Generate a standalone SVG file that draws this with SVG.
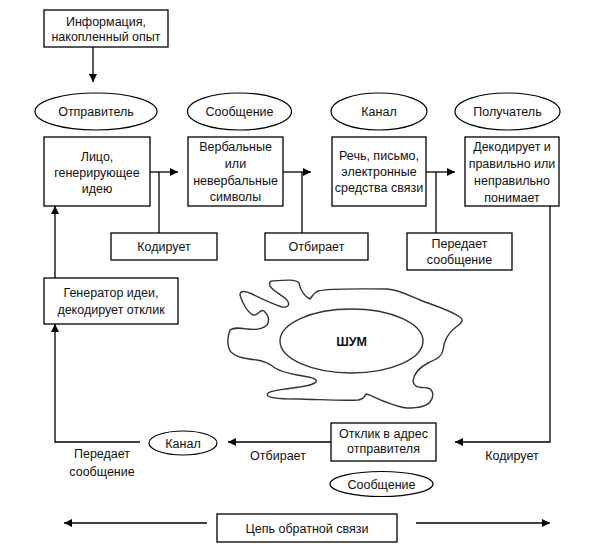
<svg xmlns="http://www.w3.org/2000/svg" width="598" height="558" viewBox="0 0 598 558">
<defs>
<marker id="ah" viewBox="0 0 10 10" refX="10" refY="5" markerWidth="8" markerHeight="8" markerUnits="userSpaceOnUse" orient="auto">
<path d="M0,0 L10,5 L0,10 z" fill="#000"/>
</marker>
<style>
rect.b{fill:#fff;stroke:#000;stroke-width:1.3}
ellipse.e{fill:#fff;stroke:#000;stroke-width:1.2}
text{font-family:"Liberation Sans",Arial,sans-serif;font-size:12.5px;fill:#111;text-anchor:middle}
.c line,.c polyline{stroke:#000;stroke-width:1.3;fill:none}
</style>
</defs>
<rect width="598" height="558" fill="#fff"/>

<g id="info"><rect class="b" x="44" y="10" width="124" height="37"/><text x="106" y="26">Информация,</text><text x="106" y="41">накопленный опыт</text></g>

<g id="ov-sender"><ellipse class="e" cx="96" cy="111.5" rx="61" ry="18.5"/><text x="96" y="115.5">Отправитель</text></g>
<g id="ov-msg"><ellipse class="e" cx="239.5" cy="111.5" rx="52" ry="18.5"/><text x="239.5" y="115.5">Сообщение</text></g>
<g id="ov-chan"><ellipse class="e" cx="379" cy="111.5" rx="48" ry="18.5"/><text x="379" y="115.5">Канал</text></g>
<g id="ov-recv"><ellipse class="e" cx="507.5" cy="111.5" rx="52.5" ry="18.5"/><text x="507.5" y="115.5">Получатель</text></g>

<g id="person"><rect class="b" x="44" y="137" width="106" height="69"/><text x="97" y="161">Лицо,</text><text x="97" y="177">генерирующее</text><text x="97" y="193">идею</text></g>
<g id="symbols"><rect class="b" x="188" y="137" width="95" height="69"/><text x="235.5" y="151">Вербальные</text><text x="235.5" y="168">или</text><text x="235.5" y="185">невербальные</text><text x="235.5" y="201">символы</text></g>
<g id="speech"><rect class="b" x="332" y="137" width="94" height="69"/><text x="379" y="160">Речь, письмо,</text><text x="379" y="176">электронные</text><text x="379" y="192">средства связи</text></g>
<g id="decode"><rect class="b" x="465" y="137" width="94" height="69"/><text x="512" y="151">Декодирует и</text><text x="512" y="168">правильно или</text><text x="512" y="185">неправильно</text><text x="512" y="202">понимает</text></g>

<g id="encode"><rect class="b" x="111" y="233" width="106" height="27"/><text x="164" y="251">Кодирует</text></g>
<g id="select"><rect class="b" x="265" y="233" width="103" height="27"/><text x="316.5" y="251">Отбирает</text></g>
<g id="transmit"><rect class="b" x="407" y="233" width="105" height="37"/><text x="459.5" y="248">Передает</text><text x="459.5" y="264">сообщение</text></g>

<g id="generator"><rect class="b" x="44" y="278" width="134" height="46"/><text x="111" y="297">Генератор идеи,</text><text x="111" y="314">декодирует отклик</text></g>

<g id="noise">
<path d="M272,281 C285,280 296,279 299,283 C300,290 305,297 310,299 C312,297 313,293 318,291 C330,288 360,289 387,289 C400,290 410,296 420,300 C432,305 448,309 460,317 C464,320 462,323 456,327 C448,333 444,340 443,350 C442,357 436,359 428,363 C420,367 414,373 413,381 C414,388 420,387 428,388 C434,390 434,397 430,402 C426,407 418,408 407,408 C398,407 392,404 383,401 C375,398 369,394 366,394 C364,396 365,399 358,400 C345,401 330,400 300,399 C285,399 273,399 268,396 C265,392 272,391 285,389 C300,387 312,386 316,382 C318,378 308,377 297,375 C287,373 280,371 275,368 C270,364 265,361 257,360 C248,359 237,358 231,352 C227,347 227,337 230,330 C234,327 240,328 247,329 C255,330 262,330 267,325 C270,320 268,315 264,311 C260,308 259,316 253,315 C247,312 242,302 240,295 C240,290 246,291 252,294 C260,298 270,303 282,307 C290,308 290,303 286,299 C280,294 272,290 270,286 C269,283 270,281 272,281 Z" fill="#fff" stroke="#333" stroke-width="1.4"/>
<ellipse cx="351.5" cy="341" rx="71.5" ry="32" fill="#fff" stroke="#333" stroke-width="1.4"/>
<text x="351.5" y="346" style="font-weight:bold">ШУМ</text>
</g>

<g id="response"><rect class="b" x="331" y="423" width="105" height="38"/><text x="383.5" y="438">Отклик в адрес</text><text x="383.5" y="453">отправителя</text></g>
<g id="ov-msg2"><ellipse class="e" cx="381.5" cy="484" rx="51.5" ry="12.5"/><text x="381.5" y="488.5">Сообщение</text></g>
<g id="ov-chan2"><ellipse class="e" cx="183" cy="443" rx="34" ry="12"/><text x="183" y="447.5">Канал</text></g>
<g id="feedback"><rect class="b" x="217" y="514" width="180" height="28"/><text x="307" y="532.5">Цепь обратной  связи</text></g>

<g id="labels">
<text x="102" y="458">Передает</text><text x="102" y="476">сообщение</text>
<text x="278" y="460">Отбирает</text>
<text x="512" y="460">Кодирует</text>
</g>

<g id="connectors" class="c">
<line x1="93" y1="47" x2="93" y2="82" marker-end="url(#ah)"/>
<line x1="150" y1="172" x2="178" y2="172" marker-end="url(#ah)"/>
<line x1="159" y1="172" x2="159" y2="233"/>
<line x1="283" y1="172" x2="311" y2="172" marker-end="url(#ah)"/>
<line x1="302" y1="172" x2="302" y2="233"/>
<line x1="426" y1="172" x2="455" y2="172" marker-end="url(#ah)"/>
<line x1="436" y1="172" x2="436" y2="233"/>
<polyline points="550,206 550,442 455,442" marker-end="url(#ah)"/>
<line x1="331" y1="442" x2="228" y2="442" marker-end="url(#ah)"/>
<polyline points="140,442 55,442 55,324" marker-end="url(#ah)"/>
<line x1="55" y1="278" x2="55" y2="206" marker-end="url(#ah)"/>
<line x1="207" y1="523" x2="64" y2="523" marker-end="url(#ah)"/>
<line x1="416" y1="523" x2="550" y2="523" marker-end="url(#ah)"/>
</g>
</svg>
